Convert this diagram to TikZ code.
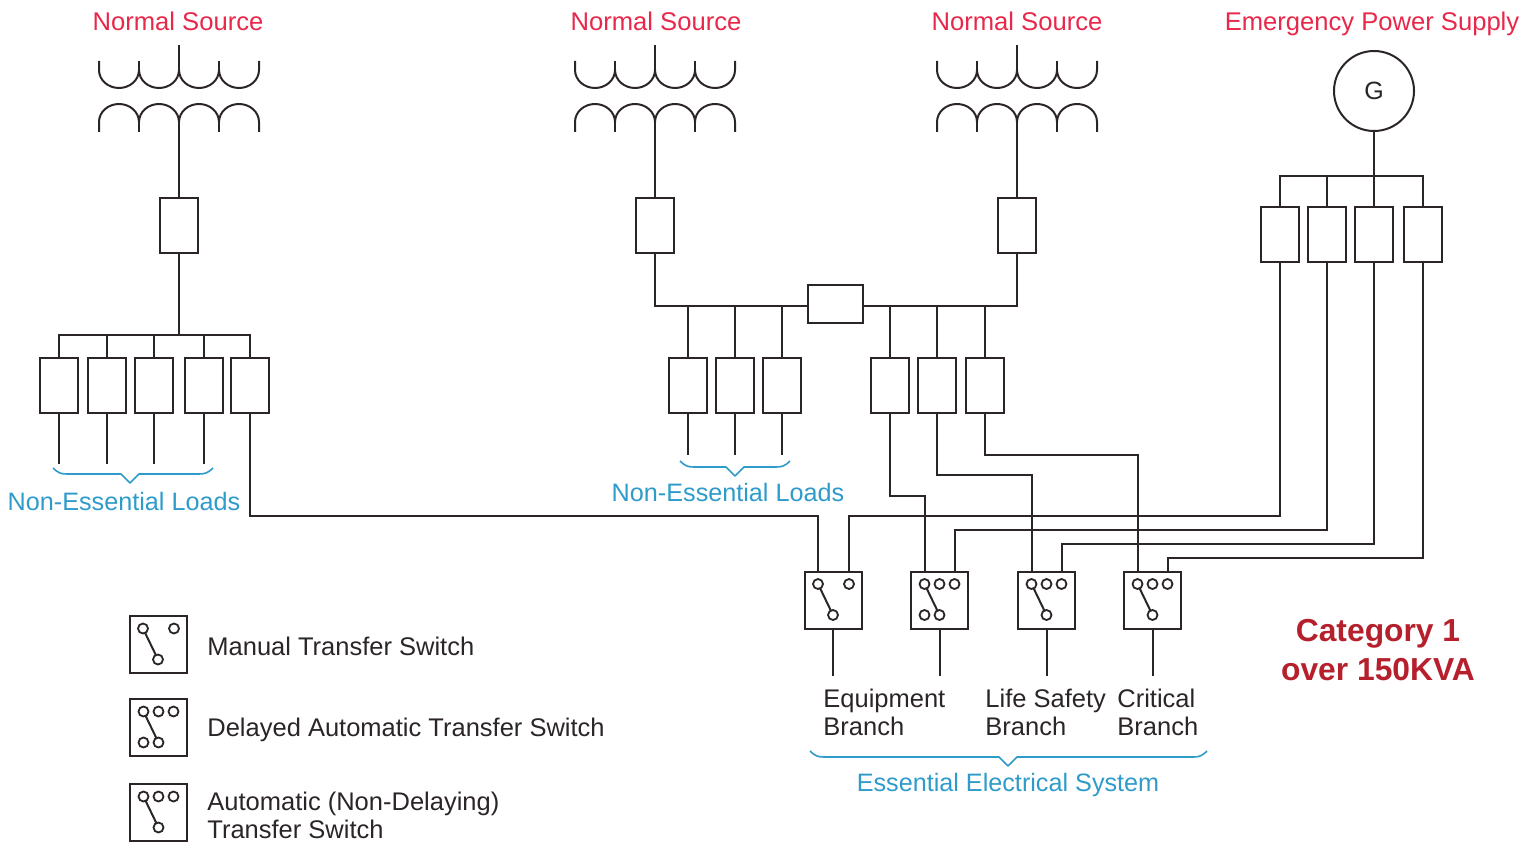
\documentclass[tikz,border=0pt]{standalone}
\usepackage{fontspec}
\setmainfont{Liberation Sans}
\usetikzlibrary{calc}
\definecolor{wirecol}{HTML}{2B2526}
\definecolor{srcred}{HTML}{E8284A}
\definecolor{loadblue}{HTML}{2E9BCB}
\definecolor{catred}{HTML}{B5202C}
\tikzset{
  wire/.style={draw=wirecol,line width=1pt},
  fuse/.style={draw=wirecol,line width=1pt,fill=white,inner sep=0pt,outer sep=0pt,minimum width=19pt,minimum height=27.5pt},
  tiebox/.style={fuse,minimum width=27.5pt,minimum height=19pt},
  swbox/.style={draw=wirecol,line width=1pt,inner sep=0pt,outer sep=0pt,minimum width=28.5pt,minimum height=28.5pt},
  contact/.style={circle,draw=wirecol,line width=.9pt,inner sep=0pt,outer sep=0pt,minimum size=5pt},
  srclabel/.style={text=srcred,font=\fontsize{12.8}{14}\selectfont,inner sep=0pt,text height=10pt,text depth=3pt},
  bluelabel/.style={text=loadblue,font=\fontsize{12.6}{14}\selectfont,inner sep=0pt,text height=10pt,text depth=3pt},
  blacklabel/.style={text=wirecol,align=left,anchor=west,font=\fontsize{12.75}{14}\selectfont,inner sep=0pt},
  catlabel/.style={text=catred,align=center,font=\fontsize{15.9}{19.5}\selectfont\bfseries,inner sep=0pt},
  brace/.style={draw=loadblue,line width=.8pt,line join=round},
  coil/.pic={
    \draw[wire] (-80,61) -- (-80,70) arc[start angle=180,end angle=0,x radius=20,y radius=18]
      arc[start angle=180,end angle=0,x radius=20,y radius=18]
      arc[start angle=180,end angle=0,x radius=20,y radius=18]
      arc[start angle=180,end angle=0,x radius=20,y radius=18] -- (80,61);
    \draw[wire] (-40,61) -- (-40,70) (40,61) -- (40,70) (0,45) -- (0,70);
    \draw[wire] (-80,132) -- (-80,122) arc[start angle=180,end angle=360,x radius=20,y radius=18]
      arc[start angle=180,end angle=360,x radius=20,y radius=18]
      arc[start angle=180,end angle=360,x radius=20,y radius=18]
      arc[start angle=180,end angle=360,x radius=20,y radius=18] -- (80,132);
    \draw[wire] (-40,132) -- (-40,122) (40,132) -- (40,122);
    \coordinate (-stem) at (0,122);
  }
}
% two-contact switch
\newcommand{\ManualSw}[3]{%
  \node[swbox] (#1) at (#2,#3) {};
  \node[contact] (#1a) at ($(#1)+(-15,-16)$) {};
  \node[contact] (#1c) at ($(#1)+(16,-16)$) {};
  \node[contact] (#1o) at ($(#1)+(0,15)$) {};
  \draw[wire] (#1a) -- (#1o);
}
% three-contact switch
\newcommand{\AutoSw}[3]{%
  \node[swbox] (#1) at (#2,#3) {};
  \node[contact] (#1a) at ($(#1)+(-15,-16)$) {};
  \node[contact] (#1b) at ($(#1)+(0,-16)$) {};
  \node[contact] (#1c) at ($(#1)+(15,-16)$) {};
  \node[contact] (#1o) at ($(#1)+(0,15)$) {};
  \draw[wire] (#1a) -- (#1o);
}
\newcommand{\BraceShape}[4]{% x1, x2, ytop, tipx
  \draw[brace] (#1,#3) .. controls (#1+5,#3+5) and (#1+8,#3+6) .. (#1+14,#3+6)
    -- (#4-9,#3+6) -- (#4,#3+15) -- (#4+9,#3+6) -- (#2-14,#3+6)
    .. controls (#2-8,#3+6) and (#2-5,#3+5) .. (#2,#3);
}
\begin{document}
\begin{tikzpicture}[x=.5pt,y=-.5pt]
\useasboundingbox (0,0) rectangle (1540,844);
% levels
\coordinate (lvLoadA) at (0,464);
\coordinate (lvLoadB) at (0,455);
\coordinate (lvOut) at (0,676);
\coordinate (lvMain) at (0,516);
\coordinate (lvG2) at (0,530);
\coordinate (lvG3) at (0,544);
\coordinate (lvG4) at (0,558);
\coordinate (lvE) at (0,496);
\coordinate (lvL) at (0,475);
\coordinate (lvC) at (0,455);
\coordinate (busA) at (0,335);
\coordinate (busM) at (0,306);
\coordinate (busG) at (0,176);
% titles
\node[srclabel] (s1) at (178,24) {Normal Source};
\node[srclabel] (s2) at (656,24) {Normal Source};
\node[srclabel] (s3) at (1017,24) {Normal Source};
\node[srclabel] (s4) at (1372,24) {Emergency Power Supply};
% transformers
\pic (t1) at (179,0) {coil};
\pic (t2) at (655,0) {coil};
\pic (t3) at (1017,0) {coil};
% generator
\node[circle,draw=wirecol,line width=1pt,inner sep=0pt,outer sep=0pt,minimum size=40pt,text=wirecol,font=\fontsize{12.5}{14}\selectfont] (G) at (1374,91) {G};
% main breakers
\node[fuse] (m1) at (179,226) {};
\node[fuse] (m2) at (655,226) {};
\node[fuse] (m3) at (1017,226) {};
\node[tiebox] (tie) at (835.5,304) {};
% left group
\node[fuse] (a1) at (59,385) {};
\node[fuse] (a2) at (106.5,385) {};
\node[fuse] (a3) at (154,385) {};
\node[fuse] (a4) at (203.5,385) {};
\node[fuse] (a5) at (250,385) {};
% middle groups
\node[fuse] (b1) at (688,385) {};
\node[fuse] (b2) at (735,385) {};
\node[fuse] (b3) at (782,385) {};
\node[fuse] (c1) at (890,385) {};
\node[fuse] (c2) at (937,385) {};
\node[fuse] (c3) at (984.5,385) {};
% generator group
\node[fuse] (g1) at (1279.5,235) {};
\node[fuse] (g2) at (1326.5,235) {};
\node[fuse] (g3) at (1374,235) {};
\node[fuse] (g4) at (1423,235) {};
% switches
\ManualSw{w1}{833}{600}
\AutoSw{w2}{939.5}{600}
\node[contact] (w2d) at ($(w2)+(-15,15)$) {};
\AutoSw{w3}{1046.5}{600}
\AutoSw{w4}{1152.5}{600}
% source wires
\draw[wire] (t1-stem) -- (m1.north);
\draw[wire] (t2-stem) -- (m2.north);
\draw[wire] (t3-stem) -- (m3.north);
\draw[wire] (m1.south) -- (m1.south |- busA);
\draw[wire] (a1.north) |- (a5.north |- busA) -- (a5.north);
\foreach \n in {a2,a3,a4} \draw[wire] (\n.north) -- (\n.north |- busA);
\foreach \n in {a1,a2,a3,a4} \draw[wire] (\n.south) -- (\n.south |- lvLoadA);
\draw[wire] (m2.south) |- (tie.west |- busM);
\draw[wire] (m3.south) |- (tie.east |- busM);
\foreach \n in {b1,b2,b3} {
  \draw[wire] (\n.north) -- (\n.north |- busM);
  \draw[wire] (\n.south) -- (\n.south |- lvLoadB);
}
\foreach \n in {c1,c2,c3} \draw[wire] (\n.north) -- (\n.north |- busM);
\draw[wire] (G.south) -- (g3.north);
\draw[wire] (g1.north) |- (g4.north |- busG) -- (g4.north);
\draw[wire] (g2.north) -- (g2.north |- busG);
% routes to the transfer switches
\draw[wire] (a5.south) -- (a5.south |- lvMain) -| (w1a |- w1.north);
\draw[wire] (g1.south) -- (g1.south |- lvMain) -| (w1c |- w1.north);
\draw[wire] (g2.south) -- (g2.south |- lvG2) -| (w2c |- w2.north);
\draw[wire] (g3.south) -- (g3.south |- lvG3) -| (w3c |- w3.north);
\draw[wire] (g4.south) -- (g4.south |- lvG4) -| (w4c |- w4.north);
\draw[wire] (c1.south) -- (c1.south |- lvE) -| (w2a |- w2.north);
\draw[wire] (c2.south) -- (c2.south |- lvL) -| (w3a |- w3.north);
\draw[wire] (c3.south) -- (c3.south |- lvC) -| (w4a |- w4.north);
\foreach \n in {w1,w2,w3,w4} \draw[wire] (\n.south) -- (\n.south |- lvOut);
% labels
\node[blacklabel] (l1) at (823,712) {Equipment\\Branch};
\node[blacklabel] (l2) at (985,712) {Life Safety\\Branch};
\node[blacklabel] (l3) at (1117,712) {Critical\\Branch};
\BraceShape{53}{213}{468}{130}
\BraceShape{680}{790}{461}{735}
\BraceShape{810}{1207}{751}{1008}
\node[bluelabel] (n1) at (124,503) {Non-Essential Loads};
\node[bluelabel] (n2) at (728,494) {Non-Essential Loads};
\node[bluelabel] (n3) at (1008,784) {Essential Electrical System};
\node[catlabel] (cat) at (1378,650) {Category 1\\over 150KVA};
% legend
\ManualSw{k1}{158}{644.5}
\AutoSw{k2}{158.5}{727.5}
\node[contact] (k2d) at ($(k2)+(-15,15)$) {};
\AutoSw{k3}{158.5}{812.5}
\node[blacklabel] (e1) at (207,646) {Manual Transfer Switch};
\node[blacklabel] (e2) at (207,730) {Delayed Automatic Transfer Switch};
\node[blacklabel] (e3) at (207,815) {Automatic (Non-Delaying)\\Transfer Switch};
\end{tikzpicture}
\end{document}
